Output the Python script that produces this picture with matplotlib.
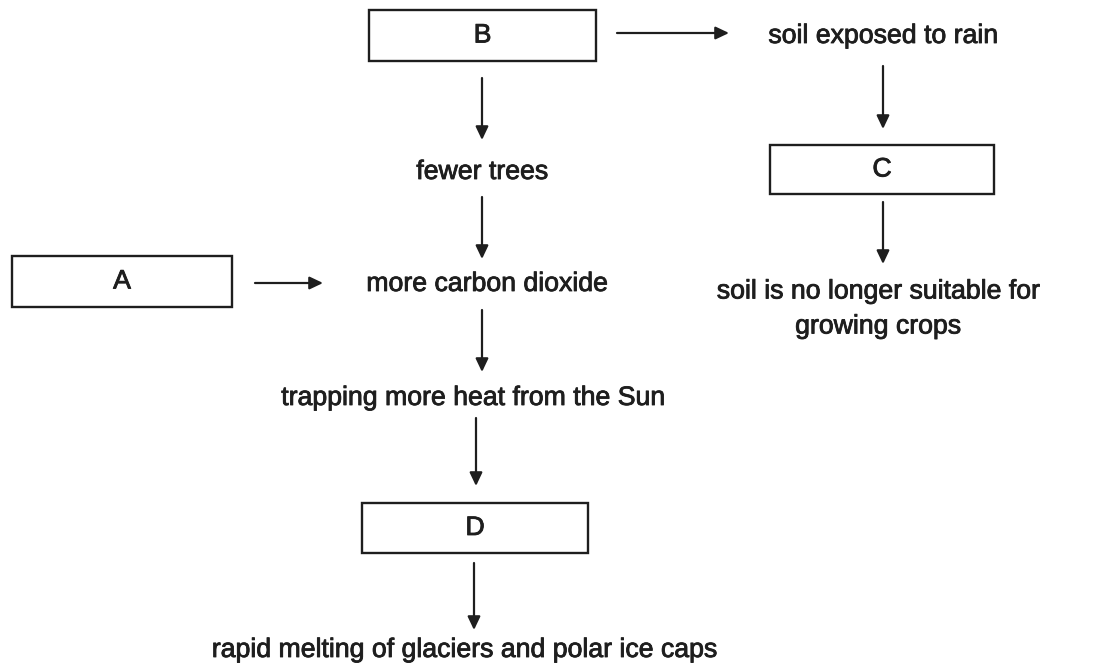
import matplotlib
matplotlib.use("Agg")
import matplotlib.pyplot as plt
from matplotlib.patches import Rectangle
import matplotlib.patheffects as pe

plt.rcParams['font.family'] = ['Liberation Sans', 'DejaVu Sans']

# Content
box_labels = ["A", "B", "C", "D"]
text_labels = [
    "soil exposed to rain",
    "fewer trees",
    "more carbon dioxide",
    "soil is no longer suitable for\ngrowing crops",
    "trapping more heat from the Sun",
    "rapid melting of glaciers and polar ice caps",
]

# Layout (pixel coordinates, y downwards)
box_geom = {  # x0, y0, x1, y1
    "A": (12, 256, 232, 307),
    "B": (369, 10, 596, 61),
    "C": (770, 145, 994, 194),
    "D": (362, 503, 588, 553),
}
text_pos = {
    "soil exposed to rain": (883, 36),
    "fewer trees": (482, 172),
    "more carbon dioxide": (487, 284),
    "soil is no longer suitable for\ngrowing crops": (878, 309),
    "trapping more heat from the Sun": (473, 398),
    "rapid melting of glaciers and polar ice caps": (464, 650),
}
arrows = [  # (x_start, y_start, x_end, y_end)
    (617, 33, 729, 33),
    (482, 78, 482, 140),
    (883, 66, 883, 129),
    (883, 202, 883, 264),
    (482, 197, 482, 259),
    (255, 283, 323, 283),
    (482, 310, 482, 372),
    (476, 418, 476, 486),
    (474, 563, 474, 630),
]

W, H = 1097, 666
fig = plt.figure(figsize=(W / 100, H / 100), dpi=100)
ax = fig.add_axes([0, 0, 1, 1])
ax.set_xlim(0, W)
ax.set_ylim(H, 0)
ax.axis("off")

ink = "#1e1e1e"
fs = 19.2
thick = [pe.withStroke(linewidth=0.6, foreground=ink)]

for lab in box_labels:
    x0, y0, x1, y1 = box_geom[lab]
    ax.add_patch(Rectangle((x0, y0), x1 - x0, y1 - y0, fill=False,
                           edgecolor=ink, linewidth=1.7))
    ax.text((x0 + x1) / 2, (y0 + y1) / 2, lab, ha="center", va="center",
            fontsize=fs, color=ink, path_effects=thick)

for t in text_labels:
    x, y = text_pos[t]
    ax.text(x, y, t, ha="center", va="center", fontsize=fs, color=ink,
            linespacing=1.45, path_effects=thick)

for xs, ys, xe, ye in arrows:
    ax.annotate("", xy=(xe, ye), xytext=(xs, ys),
                arrowprops=dict(arrowstyle="-|>,head_length=0.8,head_width=0.38",
                                color=ink, lw=1.6, shrinkA=0, shrinkB=0))

fig.savefig("out.png", dpi=100, facecolor="white")
